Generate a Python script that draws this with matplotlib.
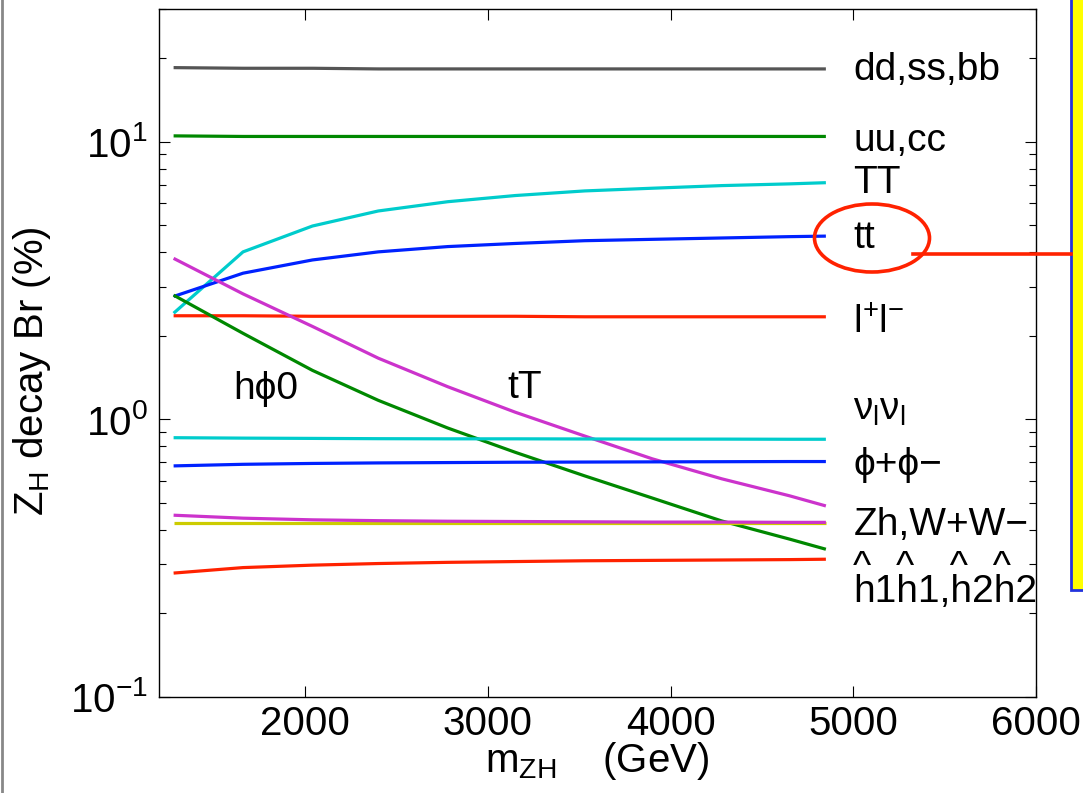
import matplotlib
matplotlib.use("Agg")
import matplotlib.pyplot as plt
from matplotlib.patches import Ellipse, Rectangle
from matplotlib.lines import Line2D

plt.rcParams['font.family'] = ['Liberation Sans', 'DejaVu Sans']
plt.rcParams['mathtext.fontset'] = 'custom'
plt.rcParams['mathtext.rm'] = 'Liberation Sans'
plt.rcParams['mathtext.it'] = 'Liberation Sans'

# m_ZH (GeV) sample points
m_zh = [1280, 1660, 2040, 2400, 2780, 3150, 3530, 3900, 4280, 4650, 4850]

# Branching ratios (%)
br_ddssbb = [18.5, 18.4, 18.4, 18.3, 18.3, 18.3, 18.3, 18.3, 18.3, 18.3, 18.3]
br_uucc = [10.5, 10.45, 10.45, 10.45, 10.45, 10.45, 10.45, 10.45, 10.45, 10.45, 10.45]
br_TT = [2.41, 4.01, 4.97, 5.63, 6.08, 6.4, 6.65, 6.8, 6.95, 7.05, 7.12]
br_tt = [2.77, 3.36, 3.75, 4.01, 4.19, 4.3, 4.4, 4.45, 4.5, 4.55, 4.57]
br_ll = [2.36, 2.36, 2.35, 2.35, 2.35, 2.35, 2.34, 2.34, 2.34, 2.34, 2.34]
br_hphi0 = [2.8, 2.04, 1.5, 1.17, 0.93, 0.76, 0.625, 0.52, 0.43, 0.37, 0.34]
br_tT = [3.8, 2.83, 2.16, 1.66, 1.31, 1.06, 0.87, 0.72, 0.61, 0.53, 0.487]
br_nunu = [0.858, 0.855, 0.853, 0.851, 0.85, 0.85, 0.849, 0.848, 0.848, 0.847, 0.847]
br_phipm = [0.679, 0.688, 0.693, 0.696, 0.698, 0.7, 0.701, 0.702, 0.703, 0.704, 0.704]
br_Zh = [0.451, 0.44, 0.434, 0.431, 0.429, 0.428, 0.427, 0.426, 0.426, 0.425, 0.425]
br_WW = [0.424, 0.424, 0.424, 0.424, 0.424, 0.424, 0.424, 0.424, 0.424, 0.424, 0.424]
br_hh = [0.279, 0.292, 0.298, 0.302, 0.305, 0.307, 0.309, 0.31, 0.311, 0.312, 0.313]

series = [
    (br_ddssbb, '#555555'),
    (br_uucc, '#008800'),
    (br_TT, '#00CCCC'),
    (br_tt, '#0022FF'),
    (br_ll, '#FF2200'),
    (br_hphi0, '#008800'),
    (br_tT, '#CC33CC'),
    (br_nunu, '#00CCCC'),
    (br_phipm, '#0022FF'),
    (br_WW, '#CCCC00'),
    (br_Zh, '#CC33CC'),
    (br_hh, '#FF2200'),
]

# channel labels at the right end of the curves
label_x = 5000
labels = [
    ('dd,ss,bb', 18.1),
    ('uu,cc', 10.1),
    ('TT', 7.1),
    ('tt', 4.5),
    ('l$^{+}$l$^{-}$', 2.22),
    (r'$\nu_{\mathrm{l}}\nu_{\mathrm{l}}$', 1.08),
    ('\u03d5+\u03d5\u2212', 0.685),
    ('Zh,W+W\u2212', 0.416),
]
# hats sit on a line of their own above the h's
hat_gap2 = '  \u200a'
hat_gap3 = '   \u200a'
hh_label = '^' + hat_gap2 + '^' + hat_gap3 + '^' + hat_gap2 + '^' + '\nh1h1,h2h2'
hh_base = 0.22
inner_labels = [('h\u03d50', 1605, 1.28), ('tT', 3105, 1.30)]

fs_lab = 28
fs_tick = 29

fig = plt.figure(figsize=(10.83, 7.93), dpi=100)
ax = fig.add_axes([0.1468, 0.1214, 0.8098, 0.8668])

for vals, col in series:
    ax.plot(m_zh, vals, color=col, lw=2.3, solid_capstyle='butt')

for txt, y in labels:
    ax.text(label_x, y, txt, fontsize=fs_lab, va='center', ha='left')
ax.text(label_x, hh_base, hh_label, fontsize=fs_lab, va='baseline', ha='left',
        linespacing=0.55)
for txt, x, y in inner_labels:
    ax.text(x, y, txt, fontsize=fs_lab, va='center', ha='left')

ax.set_yscale('log')
ax.set_xlim(1200, 6000)
ax.set_ylim(0.1, 30)
ax.set_xticks([2000, 3000, 4000, 5000, 6000])
ax.set_yticks([0.1, 1, 10])
ax.set_yticklabels(['10$^{\u22121}$', '10$^{0}$', '10$^{1}$'])
ax.tick_params(which='both', direction='in', top=True, right=True, labelsize=fs_tick, width=0.8)
ax.tick_params(which='major', length=8)
ax.tick_params(axis='x', which='major', pad=6)
ax.tick_params(axis='y', which='major', pad=8)
ax.tick_params(which='minor', length=5)
for s in ax.spines.values():
    s.set_linewidth(1.0)

ax.set_xlabel('m$_{\\mathrm{ZH}}$    (GeV)', fontsize=fs_tick, labelpad=-2)
ax.set_ylabel('Z$_{\\mathrm{H}}$ decay Br (%)', fontsize=fs_tick, labelpad=12)
ax.yaxis.label.set_y(0.474)

# slide decorations: left border, yellow box, red highlight
fig.add_artist(Line2D([2 / 1083, 2 / 1083], [0, 1], color='#888888', lw=2))
fig.add_artist(Rectangle((1071 / 1083, 1 - 590 / 793), 0.05, 600 / 793,
                         facecolor='#FFFF00', edgecolor='#2233DD', lw=2))
fig.add_artist(Ellipse((872 / 1083, 1 - 238 / 793), 115 / 1083, 68 / 793,
                       fill=False, edgecolor='#FF2200', lw=2.6))
fig.add_artist(Line2D([913 / 1083, 1071 / 1083], [1 - 254 / 793, 1 - 254 / 793],
                      color='#FF2200', lw=2.6))

fig.savefig('out.png', dpi=100)
